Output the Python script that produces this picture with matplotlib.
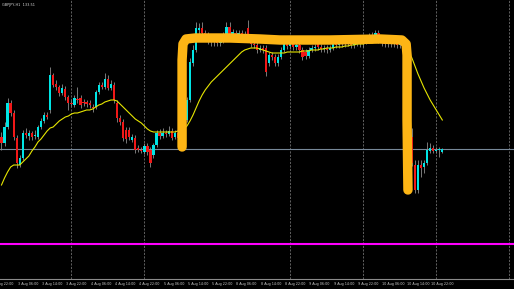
import numpy as np
import matplotlib
matplotlib.use("Agg")
from matplotlib import pyplot as plt
from matplotlib.transforms import blended_transform_factory

# H1 candles, index 0 = 3 Aug 01:00 (weekend skipped)
opens = [133.63, 133.57, 133.73, 133.97, 133.87, 133.62, 133.35, 133.42, 133.67, 133.64,
         133.67, 133.64, 133.63, 133.73, 133.79, 133.85, 133.90, 134.25, 134.16, 134.13,
         134.07, 134.11, 134.03, 133.97, 133.95, 134.01, 134.02, 133.98, 133.98, 133.97,
         133.93, 133.93, 134.08, 134.15, 134.13, 134.21, 134.12, 134.15, 133.97, 133.82,
         133.78, 133.70, 133.70, 133.60, 133.62, 133.52, 133.50, 133.48, 133.54, 133.50,
         133.45, 133.55, 133.67, 133.64, 133.67, 133.66, 133.69, 133.63, 133.67, 133.62,
         133.72, 133.80, 134.00, 134.37, 134.50, 134.70, 134.72, 134.67, 134.64, 134.60,
         134.58, 134.60, 134.57, 134.60, 134.65, 134.73, 134.65, 134.67, 134.65, 134.67,
         134.65, 134.72, 134.62, 134.56, 134.55, 134.50, 134.52, 134.52, 134.37, 134.45,
         134.43, 134.37, 134.43, 134.50, 134.57, 134.54, 134.56, 134.53, 134.55, 134.50,
         134.48, 134.44, 134.50, 134.52, 134.57, 134.53, 134.51, 134.52, 134.50, 134.52,
         134.58, 134.55, 134.57, 134.56, 134.58, 134.57, 134.55, 134.57, 134.58, 134.56,
         134.59, 134.60, 134.64, 134.65, 134.67, 134.60, 134.57, 134.56, 134.58, 134.56,
         134.57, 134.55, 134.56, 134.53, 134.45, 133.63, 133.35, 133.10, 133.35, 133.33,
         133.37, 133.49, 133.52, 133.49, 133.50, 133.48]
highs = [133.68, 133.78, 134.02, 134.00, 133.90, 133.65, 133.45, 133.70, 133.72, 133.70,
         133.69, 133.70, 133.75, 133.82, 133.88, 133.88, 134.33, 134.27, 134.20, 134.15,
         134.16, 134.14, 134.05, 134.00, 134.05, 134.13, 134.05, 134.01, 134.00, 134.00,
         133.96, 134.10, 134.18, 134.18, 134.27, 134.25, 134.20, 134.18, 134.00, 133.85,
         133.81, 133.73, 133.73, 133.66, 133.65, 133.55, 133.53, 133.57, 133.57, 133.53,
         133.57, 133.70, 133.71, 133.72, 133.70, 133.74, 133.72, 133.70, 133.70, 133.75,
         133.82, 134.03, 134.42, 134.55, 134.78, 134.77, 134.78, 134.70, 134.68, 134.64,
         134.62, 134.63, 134.63, 134.68, 134.78, 134.78, 134.71, 134.70, 134.70, 134.70,
         134.69, 134.80, 134.64, 134.59, 134.58, 134.55, 134.55, 134.55, 134.48, 134.48,
         134.46, 134.46, 134.53, 134.60, 134.60, 134.59, 134.59, 134.58, 134.58, 134.53,
         134.51, 134.53, 134.55, 134.56, 134.60, 134.56, 134.55, 134.55, 134.55, 134.61,
         134.61, 134.60, 134.60, 134.61, 134.61, 134.60, 134.60, 134.61, 134.61, 134.62,
         134.63, 134.67, 134.68, 134.70, 134.70, 134.63, 134.60, 134.61, 134.61, 134.60,
         134.60, 134.59, 134.59, 134.56, 134.48, 133.72, 133.40, 133.40, 133.40, 133.40,
         133.58, 133.57, 133.55, 133.53, 133.53, 133.52]
lows = [133.50, 133.54, 133.71, 133.84, 133.60, 133.32, 133.33, 133.40, 133.62, 133.60,
        133.60, 133.61, 133.61, 133.71, 133.77, 133.81, 133.87, 134.13, 134.10, 134.04,
        134.05, 134.00, 133.90, 133.94, 133.93, 133.97, 133.92, 133.94, 133.93, 133.92,
        133.88, 133.91, 134.06, 134.11, 134.11, 134.10, 134.10, 133.97, 133.78, 133.75,
        133.59, 133.57, 133.60, 133.58, 133.47, 133.48, 133.47, 133.46, 133.45, 133.33,
        133.42, 133.53, 133.61, 133.62, 133.63, 133.64, 133.60, 133.61, 133.58, 133.60,
        133.69, 133.78, 133.98, 134.34, 134.48, 134.66, 134.64, 134.60, 134.56, 134.54,
        134.54, 134.54, 134.54, 134.57, 134.63, 134.62, 134.62, 134.62, 134.62, 134.62,
        134.63, 134.60, 134.53, 134.52, 134.47, 134.48, 134.47, 134.24, 134.34, 134.40,
        134.34, 134.34, 134.41, 134.48, 134.51, 134.51, 134.50, 134.50, 134.47, 134.40,
        134.41, 134.42, 134.48, 134.49, 134.50, 134.48, 134.48, 134.47, 134.48, 134.50,
        134.52, 134.52, 134.53, 134.53, 134.54, 134.52, 134.52, 134.54, 134.53, 134.53,
        134.56, 134.57, 134.61, 134.62, 134.57, 134.54, 134.53, 134.53, 134.53, 134.53,
        134.52, 134.52, 134.50, 134.42, 133.60, 133.34, 133.07, 133.07, 133.23, 133.27,
        133.35, 133.47, 133.47, 133.47, 133.43, 133.47]
closes = [133.57, 133.73, 133.97, 133.87, 133.63, 133.37, 133.42, 133.67, 133.65, 133.67,
          133.63, 133.65, 133.73, 133.79, 133.85, 133.83, 134.25, 134.15, 134.13, 134.07,
          134.12, 134.03, 133.97, 133.96, 134.02, 134.00, 133.95, 133.97, 133.96, 133.95,
          133.92, 134.08, 134.15, 134.13, 134.21, 134.12, 134.16, 134.00, 133.82, 133.78,
          133.62, 133.61, 133.63, 133.63, 133.50, 133.50, 133.49, 133.54, 133.48, 133.37,
          133.55, 133.67, 133.64, 133.67, 133.66, 133.69, 133.62, 133.67, 133.62, 133.72,
          133.80, 134.00, 134.38, 134.50, 134.72, 134.72, 134.67, 134.64, 134.60, 134.58,
          134.60, 134.57, 134.60, 134.65, 134.73, 134.65, 134.68, 134.65, 134.67, 134.65,
          134.66, 134.62, 134.56, 134.55, 134.50, 134.52, 134.50, 134.28, 134.45, 134.43,
          134.37, 134.43, 134.50, 134.57, 134.54, 134.56, 134.53, 134.55, 134.50, 134.43,
          134.44, 134.50, 134.52, 134.53, 134.53, 134.51, 134.52, 134.50, 134.52, 134.58,
          134.55, 134.57, 134.56, 134.58, 134.57, 134.55, 134.57, 134.58, 134.56, 134.59,
          134.60, 134.64, 134.65, 134.67, 134.60, 134.57, 134.56, 134.58, 134.56, 134.57,
          134.55, 134.56, 134.53, 134.45, 133.63, 133.37, 133.10, 133.35, 133.32, 133.37,
          133.50, 133.52, 133.49, 133.50, 133.50, 133.51]
ma = [133.15, 133.22, 133.28, 133.33, 133.35, 133.35, 133.35, 133.38, 133.41, 133.44,
      133.49, 133.53, 133.58, 133.61, 133.65, 133.69, 133.72, 133.73, 133.76, 133.79,
      133.81, 133.83, 133.84, 133.86, 133.87, 133.87, 133.88, 133.89, 133.90, 133.90,
      133.91, 133.93, 133.95, 133.96, 133.98, 133.99, 134.00, 134.00, 133.99, 133.96,
      133.93, 133.90, 133.87, 133.84, 133.81, 133.79, 133.77, 133.74, 133.71, 133.69,
      133.68, 133.68, 133.68, 133.68, 133.68, 133.68, 133.68, 133.68, 133.69, 133.70,
      133.71, 133.74, 133.79, 133.85, 133.92, 133.99, 134.05, 134.10, 134.14, 134.18,
      134.21, 134.24, 134.27, 134.30, 134.33, 134.36, 134.39, 134.42, 134.45, 134.48,
      134.50, 134.51, 134.52, 134.52, 134.52, 134.51, 134.50, 134.49, 134.48, 134.47,
      134.47, 134.47, 134.47, 134.47, 134.48, 134.48, 134.48, 134.48, 134.48, 134.49,
      134.49, 134.49, 134.50, 134.50, 134.50, 134.51, 134.51, 134.52, 134.52, 134.52,
      134.53, 134.53, 134.53, 134.54, 134.54, 134.55, 134.55, 134.56, 134.56, 134.56,
      134.57, 134.57, 134.57, 134.58, 134.58, 134.58, 134.58, 134.58, 134.58, 134.58,
      134.57, 134.57, 134.56, 134.53, 134.48, 134.42, 134.34, 134.26, 134.19, 134.12,
      134.06, 134.00, 133.95, 133.90, 133.85, 133.80]

level_price = 132.56          # magenta horizontal line
separator_idx = [23, 47, 95, 119, 143, 167]
label_idx = [-3, 5, 13, 21, 29, 37, 45, 53, 61, 69, 77, 85, 93, 101, 109, 117, 125, 133, 141]
label_text = ["2 Aug 22:00", "3 Aug 06:00", "3 Aug 14:00", "3 Aug 22:00", "4 Aug 06:00",
              "4 Aug 14:00", "4 Aug 22:00", "5 Aug 06:00", "5 Aug 14:00", "5 Aug 22:00",
              "8 Aug 06:00", "8 Aug 14:00", "8 Aug 22:00", "9 Aug 06:00", "9 Aug 14:00",
              "9 Aug 22:00", "10 Aug 06:00", "10 Aug 14:00", "10 Aug 22:00"]
# hand drawn highlight
box_idx = [59.4, 59.4, 59.7, 60.7, 63.7, 75.2, 85.0, 91.6, 108.1, 124.5, 131.7, 133.1, 133.4, 133.4, 133.7]
box_price = [133.53, 134.40, 134.56, 134.61, 134.62, 134.62, 134.61, 134.60, 134.60, 134.61,
             134.60, 134.56, 134.45, 133.80, 133.10]
header = "GBPJPY,H1  133.51"

W, H = 514, 289
fig = plt.figure(figsize=(W / 100, H / 100), dpi=100, facecolor='black')
ax = fig.add_axes([0, 10 / H, 1, 279 / H])
ax.set_facecolor('black')
ax.set_xlim(-0.49, 168.58)
ax.set_ylim(132.21, 135.0)
for s in ['left', 'right', 'top']:
    ax.spines[s].set_visible(False)
ax.spines['bottom'].set_color('#8a8a8a')
ax.spines['bottom'].set_linewidth(0.8)
ax.set_xticks([])
ax.set_yticks([])

for x in separator_idx:
    ax.axvline(x, color='#5e5e5e', lw=0.7, ls=(0, (2.2, 1.4)), zorder=1)
ax.axhline(level_price, color='#ff00ff', lw=1.5, zorder=2)
ax.axhline(closes[-1], color='#778899', lw=0.8, zorder=2)

o = np.array(opens)
h = np.array(highs)
l = np.array(lows)
c = np.array(closes)
idx = np.arange(len(c))
up = c >= o
ax.vlines(idx, l, h, color='#8c8c8c', lw=0.6, zorder=3)
body = np.maximum(np.abs(c - o), 0.006)
ax.bar(idx, body, bottom=np.minimum(o, c), width=0.74,
       color=np.where(up, '#00e5e5', '#f01818'), linewidth=0, zorder=4)

ax.plot(idx, ma, color='#e6e600', lw=0.8, zorder=5)
ax.plot(box_idx, box_price, color='#fdb515', lw=6.8,
        solid_capstyle='round', solid_joinstyle='round', zorder=6)

trans = blended_transform_factory(ax.transData, fig.transFigure)
for x, t in zip(label_idx, label_text):
    ax.text(x + 0.3, 1 - 283.5 / H, t, transform=trans, fontsize=2.4, color='#c8c8c8',
            ha='left', va='center', clip_on=False)
fig.text(2 / W, 1 - 5 / H, header, fontsize=2.5, color='#d8d8d8', ha='left', va='center')

fig.savefig('out.png', dpi=100, facecolor='black')
